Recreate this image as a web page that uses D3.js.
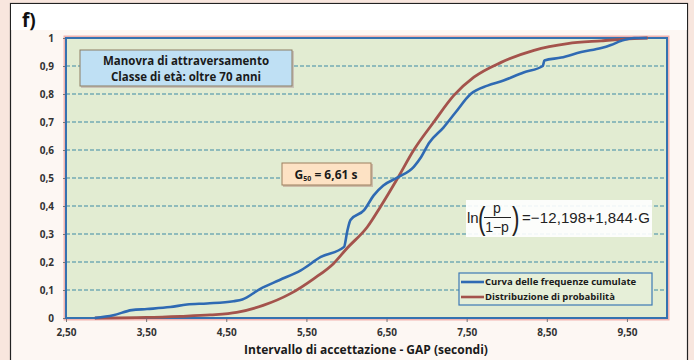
<!DOCTYPE html>
<html>
<head>
<meta charset="utf-8">
<script src="https://cdn.jsdelivr.net/npm/d3@7"></script>
<style>
  body { margin: 0; background: #f8e6de; }
  svg { display: block; }
  text { font-family: "Open Sans", Lato, sans-serif; }
</style>
</head>
<body>
<svg width="694" height="360"></svg>
<script>
// values
let xTicks = [2.5, 3.5, 4.5, 5.5, 6.5, 7.5, 8.5, 9.5];
let yTicks = [0, 0.1, 0.2, 0.3, 0.4, 0.5, 0.6, 0.7, 0.8, 0.9, 1];

let cumG = [2.86, 3.09, 3.32, 3.51, 3.8, 4.01, 4.26, 4.59, 4.7, 4.93, 5.16, 5.43, 5.68, 5.97, 6.01, 6.05, 6.22, 6.34, 6.46, 6.64, 6.84, 6.93, 7.03, 7.21, 7.36, 7.55, 7.76, 7.96, 8.21, 8.45, 8.47, 8.68, 8.93, 9.18, 9.3, 9.43, 9.59, 9.75];
let cumP = [0, 0.01, 0.028, 0.032, 0.039, 0.048, 0.052, 0.06, 0.066, 0.105, 0.135, 0.17, 0.218, 0.254, 0.31, 0.35, 0.385, 0.438, 0.473, 0.502, 0.54, 0.574, 0.625, 0.68, 0.734, 0.8, 0.83, 0.848, 0.877, 0.9, 0.92, 0.93, 0.95, 0.964, 0.975, 0.99, 1.0, 1.0];

let probG = [2.86, 3.5, 3.93, 4.3, 4.63, 4.96, 5.3, 5.59, 5.84, 6.01, 6.26, 6.43, 6.64, 6.84, 7.09, 7.34, 7.59, 7.93, 8.34, 8.76, 9.18, 9.59, 9.76];
let probP = [0, 0.002, 0.006, 0.011, 0.02, 0.045, 0.087, 0.14, 0.195, 0.25, 0.325, 0.4, 0.5, 0.6, 0.7, 0.795, 0.86, 0.913, 0.956, 0.98, 0.99, 0.998, 1.0];

let seriesNames = ['Curva delle frequenze cumulate', 'Distribuzione di probabilità'];
let seriesColors = ['#2f6ab3', '#a4534c'];

let svg = d3.select('svg');
let fmt = d => d3.format('.2f')(d).replace('.', ',');
let fmtY = d => (d === 0 || d === 1) ? String(d) : String(d).replace('.', ',');

// outer panel
svg.append('rect').attr('x', 10.5).attr('y', 3.5).attr('width', 677).attr('height', 360)
  .attr('fill', '#fdf7f3').attr('stroke', '#222').attr('stroke-width', 1.2);
svg.append('rect').attr('x', 11).attr('y', 4).attr('width', 676).attr('height', 26).attr('fill', '#fff');

svg.append('text').attr('x', 22).attr('y', 27)
  .attr('font-size', 19).attr('font-weight', 'bold').attr('fill', '#111').text('f)');

let pLeft = 66, pRight = 667, pTop = 38, pBottom = 318;

let x = d3.scaleLinear().domain([2.5, 10]).range([pLeft, pRight]);
let y = d3.scaleLinear().domain([0, 1]).range([pBottom, pTop]);

// plot background
svg.append('rect').attr('x', pLeft - 1).attr('y', pTop - 1).attr('width', pRight - pLeft + 2).attr('height', pBottom - pTop + 2)
  .attr('fill', 'none').attr('stroke', '#f2b3b0').attr('stroke-width', 3);
svg.append('rect').attr('x', pLeft).attr('y', pTop).attr('width', pRight - pLeft).attr('height', pBottom - pTop)
  .attr('fill', '#e2ecd2');

// grid
svg.append('g').selectAll('line')
  .data(yTicks.filter(d => d > 0 && d < 1))
  .enter().append('line')
  .attr('x1', pLeft).attr('x2', pRight)
  .attr('y1', d => y(d)).attr('y2', d => y(d))
  .attr('stroke', '#3d8aa5').attr('stroke-width', 1)
  .attr('stroke-dasharray', '4 2');

// axes
let xAxis = svg.append('g').attr('transform', `translate(0,${pBottom})`)
  .call(d3.axisBottom(x).tickValues(xTicks).tickFormat(fmt).tickSize(4).tickPadding(7));
let yAxis = svg.append('g').attr('transform', `translate(${pLeft},0)`)
  .call(d3.axisLeft(y).tickValues(yTicks).tickFormat(fmtY).tickSize(3).tickPadding(9));
[xAxis, yAxis].forEach(a => {
  a.select('.domain').remove();
  a.selectAll('line').attr('stroke', '#777');
  a.selectAll('text').attr('font-size', 10).attr('font-weight', 'bold').attr('fill', '#333')
    .style('font-family', '"Open Sans", sans-serif');
});

// border
svg.append('rect').attr('x', pLeft).attr('y', pTop).attr('width', pRight - pLeft).attr('height', pBottom - pTop)
  .attr('fill', 'none').attr('stroke', '#3572b0').attr('stroke-width', 2);

// curves
let line = d3.line()
  .x(d => x(d[0])).y(d => y(d[1]))
  .curve(d3.curveMonotoneX);

svg.append('path').datum(d3.zip(probG, probP))
  .attr('d', line).attr('fill', 'none')
  .attr('stroke', seriesColors[1]).attr('stroke-width', 2.8);
svg.append('path').datum(d3.zip(cumG, cumP))
  .attr('d', line).attr('fill', 'none')
  .attr('stroke', seriesColors[0]).attr('stroke-width', 2.6);

// info box
svg.append('rect').attr('x', 81).attr('y', 51).attr('width', 213).attr('height', 37).attr('fill', '#c9c3b8');
svg.append('rect').attr('x', 80).attr('y', 50).attr('width', 212).attr('height', 36)
  .attr('fill', '#bfe0f4').attr('stroke', '#8c7c62').attr('stroke-width', 1);
svg.append('text').attr('x', 186).attr('y', 65).attr('text-anchor', 'middle')
  .attr('font-size', 11.5).attr('font-weight', 'bold').attr('fill', '#1a1a1a').text('Manovra di attraversamento');
svg.append('text').attr('x', 186).attr('y', 80.5).attr('text-anchor', 'middle')
  .attr('font-size', 11.5).attr('font-weight', 'bold').attr('fill', '#1a1a1a').text('Classe di età: oltre 70 anni');

// G50 box
svg.append('rect').attr('x', 283).attr('y', 164).attr('width', 90).attr('height', 23).attr('fill', '#cdbca8');
svg.append('rect').attr('x', 282).attr('y', 163).attr('width', 89).attr('height', 22)
  .attr('fill', '#fde2c4').attr('stroke', '#9c7f5e').attr('stroke-width', 1);
let g50 = svg.append('text').attr('x', 326).attr('y', 178.5).attr('text-anchor', 'middle')
  .attr('font-size', 12).attr('font-weight', 'bold').attr('fill', '#1a1a1a');
g50.append('tspan').text('G');
g50.append('tspan').attr('font-size', 7).attr('dy', 2).text('50');
g50.append('tspan').attr('dy', -2).text(' = 6,61 s');

// formula
let fx = 466;
svg.append('rect').attr('x', fx).attr('y', 200).attr('width', 186).attr('height', 37).attr('fill', '#fff').attr('opacity', 0.9);
let ff = 'Liberation Sans, Arial, sans-serif';
svg.append('text').attr('x', fx + 1).attr('y', 223).attr('font-size', 15).style('font-family', ff).attr('fill', '#222').text('ln');
svg.append('text').attr('x', fx + 12).attr('y', 229).attr('font-size', 32).attr('font-weight', 300)
  .style('font-family', ff).attr('fill', '#222').attr('transform', `translate(${fx + 12},229) scale(0.7,1) translate(${-(fx + 12)},-229)`).text('(');
svg.append('text').attr('x', fx + 31).attr('y', 213).attr('text-anchor', 'middle').attr('font-size', 14).style('font-family', ff).attr('fill', '#222').text('p');
svg.append('line').attr('x1', fx + 18).attr('x2', fx + 45).attr('y1', 217.5).attr('y2', 217.5).attr('stroke', '#222').attr('stroke-width', 1);
svg.append('text').attr('x', fx + 31).attr('y', 232).attr('text-anchor', 'middle').attr('font-size', 14).style('font-family', ff).attr('fill', '#222').text('1−p');
svg.append('text').attr('x', fx + 46).attr('y', 229).attr('font-size', 32).attr('font-weight', 300)
  .style('font-family', ff).attr('fill', '#222').attr('transform', `translate(${fx + 46},229) scale(0.7,1) translate(${-(fx + 46)},-229)`).text(')');
svg.append('text').attr('x', fx + 56).attr('y', 223).attr('font-size', 15).style('font-family', ff).attr('fill', '#222')
  .attr('textLength', 128).text('=−12,198+1,844·G');

// legend
let lx = 459, ly = 273;
svg.append('rect').attr('x', lx).attr('y', ly).attr('width', 193).attr('height', 32)
  .attr('fill', '#e6efd8').attr('stroke', '#3d78b5').attr('stroke-width', 1.2);
let legend = svg.append('g').selectAll('g')
  .data(seriesNames)
  .enter().append('g')
  .attr('transform', (d, i) => `translate(${lx + 2},${ly + 9 + i * 15})`);
legend.append('line').attr('x1', 0).attr('x2', 23)
  .attr('stroke', (d, i) => seriesColors[i]).attr('stroke-width', 2.6);
legend.append('text').attr('x', 24).attr('dy', '0.35em')
  .attr('font-size', 9.5).attr('font-weight', 'bold').attr('fill', '#1a1a1a')
  .text(d => d);

// x title
svg.append('text').attr('x', 366).attr('y', 354).attr('text-anchor', 'middle')
  .attr('font-size', 12).attr('font-weight', 'bold').attr('fill', '#1a1a1a')
  .text('Intervallo di accettazione - GAP (secondi)');
</script>
</body>
</html>
